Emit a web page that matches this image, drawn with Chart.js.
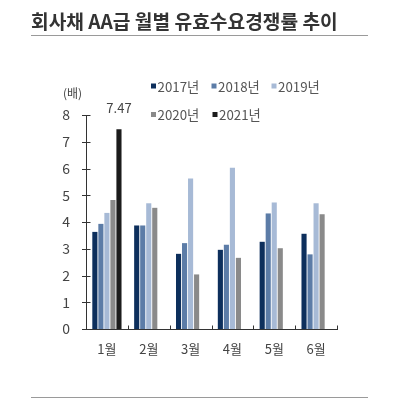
<!DOCTYPE html>
<html>
<head>
<meta charset="utf-8">
<script src="https://cdn.jsdelivr.net/npm/chart.js@4/dist/chart.umd.min.js"></script>
<style>
html,body{margin:0;padding:0;background:#fff;}
#wrap{position:relative;width:403px;height:401px;}
</style>
</head>
<body>
<div id="wrap"><canvas id="c" width="403" height="401"></canvas></div>
<script>
const titleText = '회사채 AA급 월별 유효수요경쟁률 추이';
const unitLabel = '(배)';
const categories = ['1월','2월','3월','4월','5월','6월'];
const seriesNames = ['2017년','2018년','2019년','2020년','2021년'];
const s2017 = [3.63, 3.87, 2.81, 2.96, 3.26, 3.56];
const s2018 = [3.93, 3.87, 3.21, 3.15, 4.32, 2.79];
const s2019 = [4.34, 4.70, 5.63, 6.03, 4.73, 4.70];
const s2020 = [4.82, 4.53, 2.04, 2.66, 3.02, 4.29];
const s2021 = [7.47, null, null, null, null, null];
const seriesColors = ['#0d2f5c','#5c7ca7','#a7bad6','#8a8a8a','#1c1c1c'];
const yTicks = [0,1,2,3,4,5,6,7,8];

const FONT = '"Noto Sans CJK KR", "Noto Sans", sans-serif';
const allSeries = [s2017, s2018, s2019, s2020, s2021];

const deco = {
  id: 'deco',
  afterDraw(chart) {
    const ctx = chart.ctx;
    const xs = chart.scales.x, ys = chart.scales.y;
    ctx.save();
    // title
    ctx.fillStyle = '#333';
    ctx.font = 'bold 19.2px ' + FONT;
    ctx.textBaseline = 'middle';
    ctx.textAlign = 'left';
    ctx.fillText(titleText, 31, 22);
    // rules
    ctx.strokeStyle = '#9a9a9a';
    ctx.lineWidth = 1;
    ctx.beginPath(); ctx.moveTo(31, 35.5); ctx.lineTo(368, 35.5); ctx.stroke();
    ctx.beginPath(); ctx.moveTo(31, 397.5); ctx.lineTo(368, 397.5); ctx.stroke();
    // unit
    ctx.fillStyle = '#444';
    ctx.font = '12px ' + FONT;
    ctx.textAlign = 'left';
    ctx.fillText(unitLabel, 63, 93);
    // legend
    const pos = [[151,86],[211.5,86],[271.5,86],[151,114.5],[212.5,114.5]];
    ctx.font = '13.3px ' + FONT;
    chart.data.datasets.forEach((ds, i) => {
      const [lx, ly] = pos[i];
      ctx.fillStyle = ds.backgroundColor;
      ctx.fillRect(lx, ly - 2.5, 5, 5);
      ctx.fillStyle = '#555';
      ctx.fillText(ds.label, lx + 6.5, ly + 0.5);
    });
    // axis tick marks
    ctx.strokeStyle = '#333';
    ctx.lineWidth = 1;
    const ax = Math.round(chart.chartArea.left) + 0.5;
    const by = Math.round(ys.getPixelForValue(0)) + 0.5;
    yTicks.forEach(v => {
      const y = Math.round(ys.getPixelForValue(v)) + 0.5;
      ctx.beginPath(); ctx.moveTo(ax - 4.5, y); ctx.lineTo(ax + 4, y); ctx.stroke();
    });
    for (let i = 0; i < categories.length; i++) {
      const x = Math.round(xs.getPixelForValue(i) + (xs.getPixelForValue(1) - xs.getPixelForValue(0)) / 2) + 0.5;
      ctx.beginPath(); ctx.moveTo(x, by); ctx.lineTo(x, by - 4); ctx.stroke();
    }
    // data label for 2021
    const meta = chart.getDatasetMeta(4);
    const bar = meta.data[0];
    ctx.fillStyle = '#444';
    ctx.font = '13px ' + FONT;
    ctx.textAlign = 'center';
    ctx.fillText(String(s2021[0]), bar.x, bar.y - 21);
    ctx.restore();
  }
};

new Chart(document.getElementById('c'), {
  type: 'bar',
  data: {
    labels: categories,
    datasets: allSeries.map((d, i) => ({
      label: seriesNames[i],
      data: d,
      backgroundColor: seriesColors[i],
      borderWidth: 0,
      categoryPercentage: 0.72,
      barPercentage: 0.85
    }))
  },
  options: {
    responsive: false,
    animation: false,
    devicePixelRatio: 1,
    layout: { padding: { left: 0, top: 115, right: 66, bottom: 0 } },
    plugins: { legend: { display: false }, title: { display: false }, tooltip: { enabled: false } },
    scales: {
      x: {
        grid: { display: false, drawTicks: false },
        border: { display: true, color: '#333', width: 1 },
        ticks: { color: '#444', font: { family: FONT, size: 13 }, padding: 12 },
        afterFit(s) { s.height = 72; }
      },
      y: {
        min: 0, max: 8,
        afterBuildTicks(s) { s.ticks = yTicks.map(v => ({ value: v })); },
        grid: { display: false, drawTicks: false },
        border: { display: true, color: '#333', width: 1 },
        ticks: { color: '#444', font: { family: FONT, size: 14 }, padding: 16 },
        afterFit(s) { s.width = 86; }
      }
    }
  },
  plugins: [deco]
});
</script>
</body>
</html>
